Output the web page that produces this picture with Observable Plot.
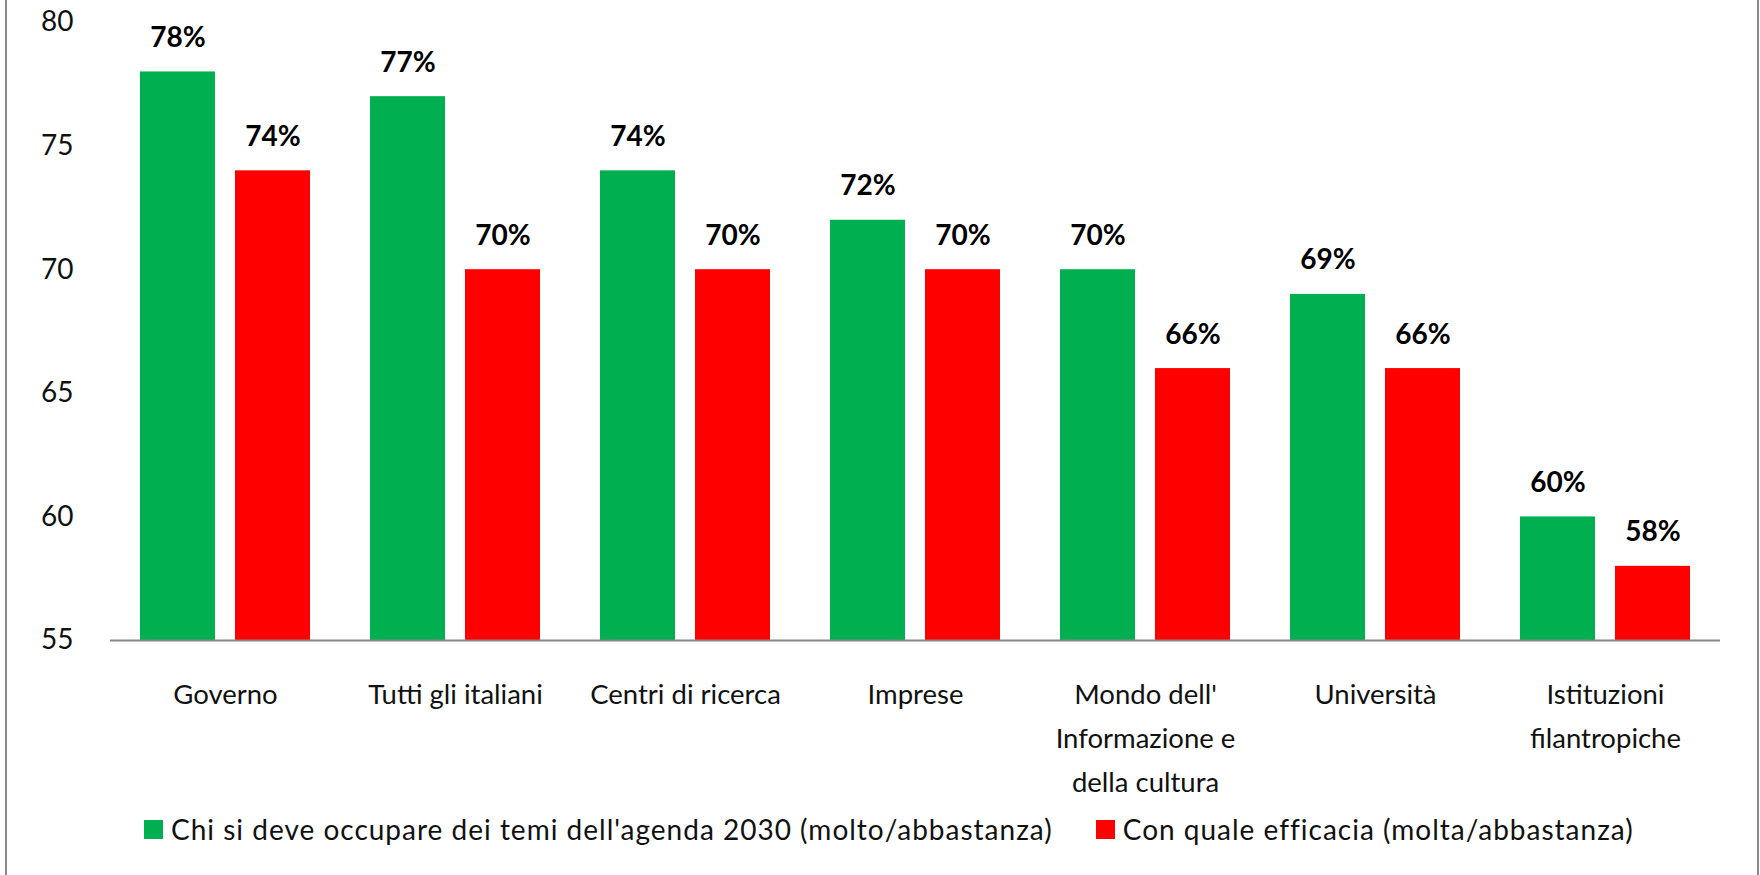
<!DOCTYPE html>
<html>
<head>
<meta charset="utf-8">
<script src="https://cdn.jsdelivr.net/npm/d3@7"></script>
<script src="https://cdn.jsdelivr.net/npm/@observablehq/plot@0.6"></script>
<style>
  html, body { margin: 0; padding: 0; background: #fff; }
  #wrap { position: relative; width: 1760px; height: 875px; overflow: hidden; font-family: Lato, "Open Sans", sans-serif; }
  #frameL { position: absolute; left: 5px; top: 0; width: 2px; height: 875px; background: #8a8a8a; }
  #frameR { position: absolute; left: 1757px; top: 0; width: 2px; height: 875px; background: #8a8a8a; }
  #chart { position: absolute; left: 0; top: 0; }
  #legend { position: absolute; left: 144px; top: 812px; display: flex; align-items: center; font-size: 28px; letter-spacing: 1px; color: #111; white-space: nowrap; }
  .sw { display: inline-block; width: 19px; height: 19px; margin-right: 8px; }
  .item { display: flex; align-items: center; margin-right: 43px; }
</style>
</head>
<body>
<div id="wrap">
  <div id="chart"></div>
  <div id="legend"></div>
  <div id="frameL"></div>
  <div id="frameR"></div>
</div>
<script>
const categories = ["Governo", "Tutti gli italiani", "Centri di ricerca", "Imprese", "Mondo dell'\nInformazione e\ndella cultura", "Università", "Istituzioni\nfilantropiche"];
const seriesNames = ["Chi si deve occupare dei temi dell'agenda 2030 (molto/abbastanza)", "Con quale efficacia (molta/abbastanza)"];
const chiSiDeve = [78, 77, 74, 72, 70, 69, 60];
const efficacia = [74, 70, 70, 70, 66, 66, 58];
const seriesColors = ["#00B050", "#FF0000"];
const yTicks = [55, 60, 65, 70, 75, 80];

const rows = [];
categories.forEach((c, i) => {
  rows.push({category: c, serie: seriesNames[0], value: chiSiDeve[i]});
  rows.push({category: c, serie: seriesNames[1], value: efficacia[i]});
});

const chart = Plot.plot({
  width: 1760,
  height: 805,
  marginLeft: 107,
  marginRight: 37,
  marginTop: 22,
  marginBottom: 165,
  style: {fontFamily: "Lato, 'Open Sans', sans-serif", fontSize: "27px", background: "transparent", color: "#111"},
  fx: {domain: categories, padding: 0, label: null},
  x: {domain: seriesNames, paddingInner: 0.208, paddingOuter: 0.307, axis: null},
  y: {domain: [55, 80], label: null},
  color: {domain: seriesNames, range: seriesColors},
  marks: [
    Plot.axisY(yTicks, {tickSize: 0, tickPadding: 37, fontSize: 28, tickFormat: d => d, label: null, letterSpacing: 1}),
    Plot.axisFx({anchor: "bottom", tickSize: 0, tickPadding: 32, fontSize: 27.5, lineHeight: 1.6, label: null, letterSpacing: 1}),
    Plot.barY(rows, {fx: "category", x: "serie", y1: 55, y2: "value", fill: "serie"}),
    Plot.ruleY([55], {stroke: "#888888", strokeWidth: 2}),
    Plot.text(rows, {fx: "category", x: "serie", y: "value", text: d => d.value + "%", dy: -34, fontWeight: "bold", fontSize: 28, fill: "#000"})
  ]
});
document.getElementById("chart").appendChild(chart);

const lg = document.getElementById("legend");
seriesNames.forEach((s, i) => {
  const item = document.createElement("span");
  item.className = "item";
  const sw = document.createElement("span");
  sw.className = "sw";
  sw.style.background = seriesColors[i];
  item.appendChild(sw);
  item.appendChild(document.createTextNode(s));
  lg.appendChild(item);
});
</script>
</body>
</html>
